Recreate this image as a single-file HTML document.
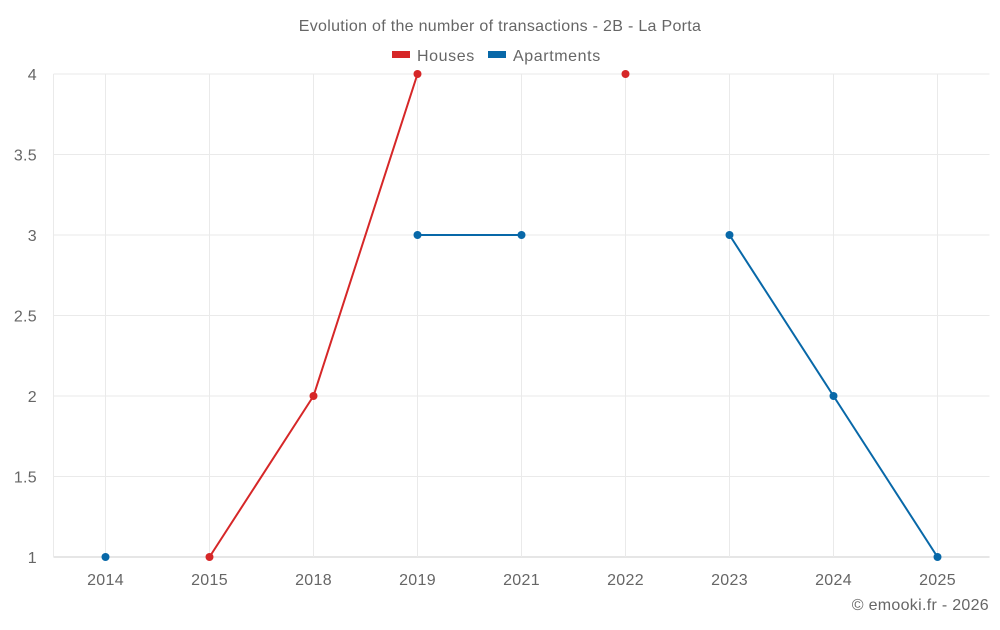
<!DOCTYPE html>
<html><head><meta charset="utf-8"><style>
body{margin:0;background:#fff;font-family:"Liberation Sans",sans-serif}
svg text{font-family:"Liberation Sans",sans-serif}
</style></head><body>
<svg width="1000" height="625">
<text x="500" y="31" text-anchor="middle" font-size="16" fill="#666" letter-spacing="0.3">Evolution of the number of transactions - 2B - La Porta</text>
<g>
<g><rect x="392" y="51" width="18" height="7" fill="#d62728"/><text x="417" y="61" font-size="16" fill="#666" letter-spacing="0.6">Houses</text></g>
<g><rect x="488" y="51" width="18" height="7" fill="#0868a8"/><text x="513" y="61" font-size="16" fill="#666" letter-spacing="0.6">Apartments</text></g>
</g>
<g id="grid"></g>
<g id="axes"></g>
<g id="series"></g>
<text x="989" y="610" text-anchor="end" font-size="16" fill="#666" letter-spacing="0.3">© emooki.fr - 2026</text>
</svg>
<script>
const categories=["2014","2015","2018","2019","2021","2022","2023","2024","2025"];
const houses=[null,1,2,4,null,4,null,null,null];
const apartments=[1,null,null,3,3,null,3,2,1];
const yTicks=[1,1.5,2,2.5,3,3.5,4];
const NS="http://www.w3.org/2000/svg";
const L=53.5,R=989.5,T=74,B=557,yMin=1,yMax=4;
const bw=(R-L)/categories.length;
const x=i=>L+bw*(i+0.5);
const y=v=>B-(v-yMin)/(yMax-yMin)*(B-T);
function mk(tag,attrs,parent){const e=document.createElementNS(NS,tag);for(const k in attrs)e.setAttribute(k,attrs[k]);parent.appendChild(e);return e;}
const grid=document.getElementById('grid'),axes=document.getElementById('axes'),ser=document.getElementById('series');
yTicks.forEach(t=>{
 const l=mk('line',{x1:L,x2:R,y1:y(t),y2:y(t),stroke:t===yMin?'#ccc':'#eaeaea'},grid);
 
 
 const tx=mk('text',{x:37,y:y(t)+6,'text-anchor':'end','font-size':16,fill:'#666','letter-spacing':0.3},axes);
 tx.textContent=String(t);
 
 
});
const gl=mk('line',{x1:L,x2:L,y1:T,y2:B,stroke:'#eaeaea'},grid);


categories.forEach((c,i)=>{
 const l=mk('line',{x1:x(i),x2:x(i),y1:T,y2:B,stroke:'#eaeaea'},grid);
 
 
 const tx=mk('text',{x:x(i),y:585,'text-anchor':'middle','font-size':16,fill:'#666','letter-spacing':0.3},axes);
 tx.textContent=c;
 
 
});
function draw(data,color,name){
 let seg=[];
 const flush=()=>{if(seg.length>1){const p=mk('polyline',{points:seg.join(' '),fill:'none',stroke:color,'stroke-width':2},ser);
  
  }seg=[];};
 data.forEach((v,i)=>{if(v==null){flush();return;}seg.push(x(i)+','+y(v));});
 flush();
 data.forEach((v,i)=>{if(v==null)return;const c=mk('circle',{cx:x(i),cy:y(v),r:4,fill:color},ser);
  
  });
}
draw(houses,'#d62728','houses');
draw(apartments,'#0868a8','apartments');
</script>
</body></html>
